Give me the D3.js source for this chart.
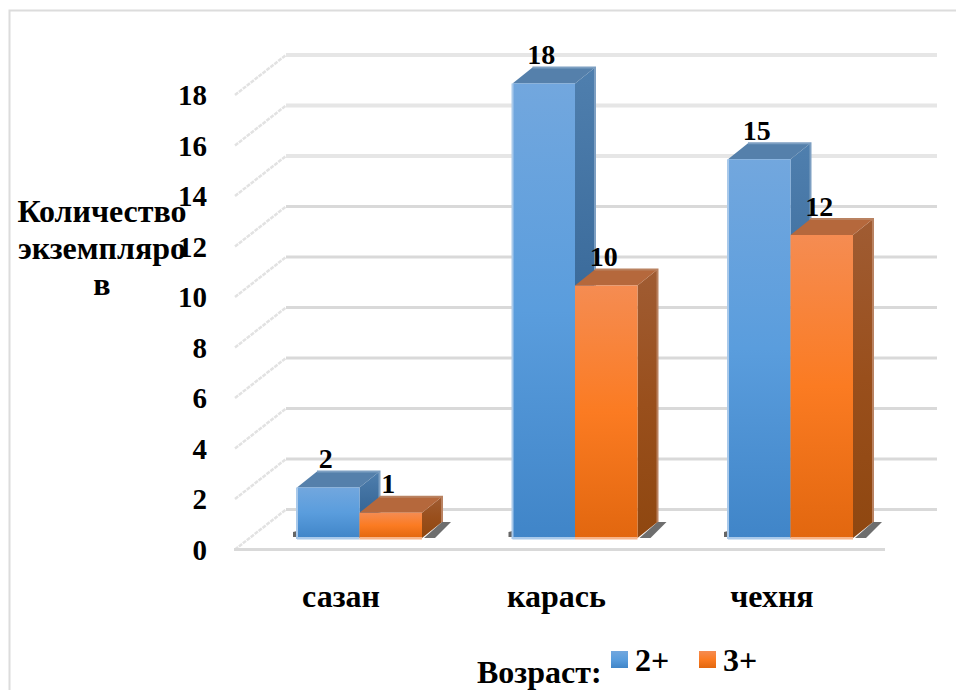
<!DOCTYPE html>
<html>
<head>
<meta charset="utf-8">
<script src="https://cdn.jsdelivr.net/npm/d3@7"></script>
<style>
  html, body { margin: 0; padding: 0; background: #fff; overflow: hidden; }
  svg { display: block; }
  text { font-family: "Liberation Serif", serif; font-weight: bold; fill: #000; }
</style>
</head>
<body>
<div id="chart"></div>
<script>
var categories = ["сазан", "карась", "чехня"];
var seriesNames = ["2+", "3+"];
var values2 = [2, 18, 15];
var values3 = [1, 10, 12];
var yTicks = [0, 2, 4, 6, 8, 10, 12, 14, 16, 18];
var yTitle = ["Количество", "экземпляро", "в"];
var legendTitle = "Возраст:";

var width = 956;
var height = 690;

// depth of the walls and of the bars
var wallDx = 52, wallDy = 40;
var barDx = 20, barDy = 16;

var svg = d3.select("#chart").append("svg")
  .attr("width", width)
  .attr("height", height);

/* gradients */
var defs = svg.append("defs");
function gradient(id, stops) {
  var g = defs.append("linearGradient").attr("id", id)
    .attr("x1", 0).attr("y1", 0).attr("x2", 0).attr("y2", 1);
  stops.forEach(function(s, i) {
    g.append("stop").attr("offset", i / (stops.length - 1)).attr("stop-color", s);
  });
}
gradient("front0", ["#72a7de", "#5a9ddd", "#4085c8"]);
gradient("front1", ["#f58c52", "#fb7b22", "#e2670f"]);
gradient("side0", ["#4f7fae", "#3a6a9a", "#2f6090"]);
gradient("side1", ["#a05c33", "#994f1c", "#8f4710"]);

/* frame, only top and left are inside the picture */
svg.append("rect")
  .attr("x", 9.5).attr("y", 10.5)
  .attr("width", 980).attr("height", 720)
  .attr("fill", "#fff")
  .attr("stroke", "#dcdcdc")
  .attr("stroke-width", 2);

/* scales */
var y = d3.scaleLinear().domain([0, 18]).range([549.5, 95]);
var x = d3.scaleBand().domain(categories).range([234, 880.5]);
var xBar = d3.scaleBand().domain(d3.range(2)).range([0, 125]);

// bars stand a little behind the front edge of the floor
function barX(cat, s) {
  return x(cat) + 63 + xBar(s);
}
var barBase = 11.5;

/* grid: back wall and left wall */
var grid = svg.append("g").attr("class", "grid");
grid.selectAll(".back")
  .data(yTicks).enter()
  .append("line")
  .attr("class", "back")
  .attr("x1", 286).attr("x2", 937)
  .attr("y1", d => y(d) - wallDy).attr("y2", d => y(d) - wallDy)
  .attr("stroke", d => d >= 14 ? "#e6e6e6" : "#d9d9d9")
  .attr("stroke-width", d => d >= 14 ? 4 : 3);
grid.selectAll(".side")
  .data(yTicks).enter()
  .append("line")
  .attr("class", "side")
  .attr("x1", 235).attr("x2", 286)
  .attr("y1", d => y(d)).attr("y2", d => y(d) - wallDy)
  .attr("stroke", "#e2e2e2")
  .attr("stroke-width", 2.5)
  .attr("stroke-dasharray", "4 1");
grid.append("line")
  .attr("x1", 234).attr("x2", 885)
  .attr("y1", y(0)).attr("y2", y(0))
  .attr("stroke", "#d9d9d9")
  .attr("stroke-width", 3);

/* bars */
var series = [values2, values3];
var bars = svg.append("g").attr("class", "bars");
var topColors = ["#5580ab", "#b5683c"];
var edgeColors = ["#a9c9ea", "#f7b48a"];
var outerColors = ["#7d9fc2", "#b98261"];

categories.forEach(function(cat, c) {
  var x0 = barX(cat, 0);
  var x1 = x0 + 125;
  var base = y(0) - barBase;
  // floor shadow
  bars.append("path")
    .attr("d", d3.line()([[x0 - 4, base - 1], [x0 - 4, base - 6], [x0, base - 7], [x0, base - 1]]))
    .attr("fill", "#666");
  bars.append("path")
    .attr("d", d3.line()([[x1 + 2, base], [x1 + barDx, base - barDy], [x1 + barDx + 9, base - barDy], [x1 + 13, base]]))
    .attr("fill", "#6e6e6e");

  [0, 1].forEach(function(s) {
    var v = series[s][c];
    var bx = barX(cat, s);
    var bw = xBar.bandwidth();
    var top = y(v) - barBase;
    bars.append("path")
      .attr("d", d3.line()([[bx + bw, top], [bx + bw + barDx, top - barDy], [bx + bw + barDx, base - barDy], [bx + bw, base]]))
      .attr("fill", "url(#side" + s + ")");
    bars.append("path")
      .attr("d", d3.line()([[bx, top], [bx + barDx, top - barDy], [bx + bw + barDx, top - barDy], [bx + bw, top]]))
      .attr("fill", topColors[s]);
    // pale back edge of the top and the side
    bars.append("path")
      .attr("d", d3.line()([[bx + barDx, top - barDy], [bx + bw + barDx, top - barDy], [bx + bw + barDx, base - barDy]]))
      .attr("fill", "none")
      .attr("stroke", outerColors[s])
      .attr("stroke-width", 2);
    bars.append("rect")
      .attr("x", bx).attr("y", top)
      .attr("width", bw).attr("height", base - top)
      .attr("fill", "url(#front" + s + ")");
    bars.append("rect")
      .attr("x", bx).attr("y", base - 1)
      .attr("width", bw).attr("height", 2.5)
      .attr("fill", edgeColors[s]);
    if (s === 0) {
      bars.append("rect")
        .attr("x", bx - 1).attr("y", top)
        .attr("width", 2).attr("height", base - top + 1)
        .attr("fill", edgeColors[s]);
    }
    svg.append("text")
      .attr("x", bx + bw / 2 - 2.5)
      .attr("y", top - 19.5)
      .attr("text-anchor", "middle")
      .attr("font-size", 28)
      .text(v);
  });
});

/* y axis labels */
svg.append("g").selectAll("text")
  .data(yTicks).enter()
  .append("text")
  .attr("x", 207)
  .attr("y", d => y(d) + 10)
  .attr("text-anchor", "end")
  .attr("font-size", 29)
  .text(d => d);

/* y title */
svg.append("g").selectAll("text")
  .data(yTitle).enter()
  .append("text")
  .attr("x", 102)
  .attr("y", (d, i) => 222 + i * 36.5)
  .attr("text-anchor", "middle")
  .attr("font-size", 32)
  .text(d => d);

/* category labels */
svg.append("g").selectAll("text")
  .data(categories).enter()
  .append("text")
  .attr("x", d => barX(d, 0) + 44)
  .attr("y", 607)
  .attr("text-anchor", "middle")
  .attr("font-size", 32)
  .text(d => d);

/* legend */
var legendX = [611, 699];
var legend = svg.append("g");
legend.append("text")
  .attr("x", 477).attr("y", 683)
  .attr("font-size", 32)
  .text(legendTitle);
seriesNames.forEach(function(name, i) {
  legend.append("rect")
    .attr("x", legendX[i]).attr("y", 651)
    .attr("width", 17).attr("height", 17)
    .attr("fill", "url(#front" + i + ")");
  legend.append("text")
    .attr("x", legendX[i] + 24).attr("y", 671)
    .attr("font-size", 32)
    .text(name);
});
</script>
</body>
</html>
